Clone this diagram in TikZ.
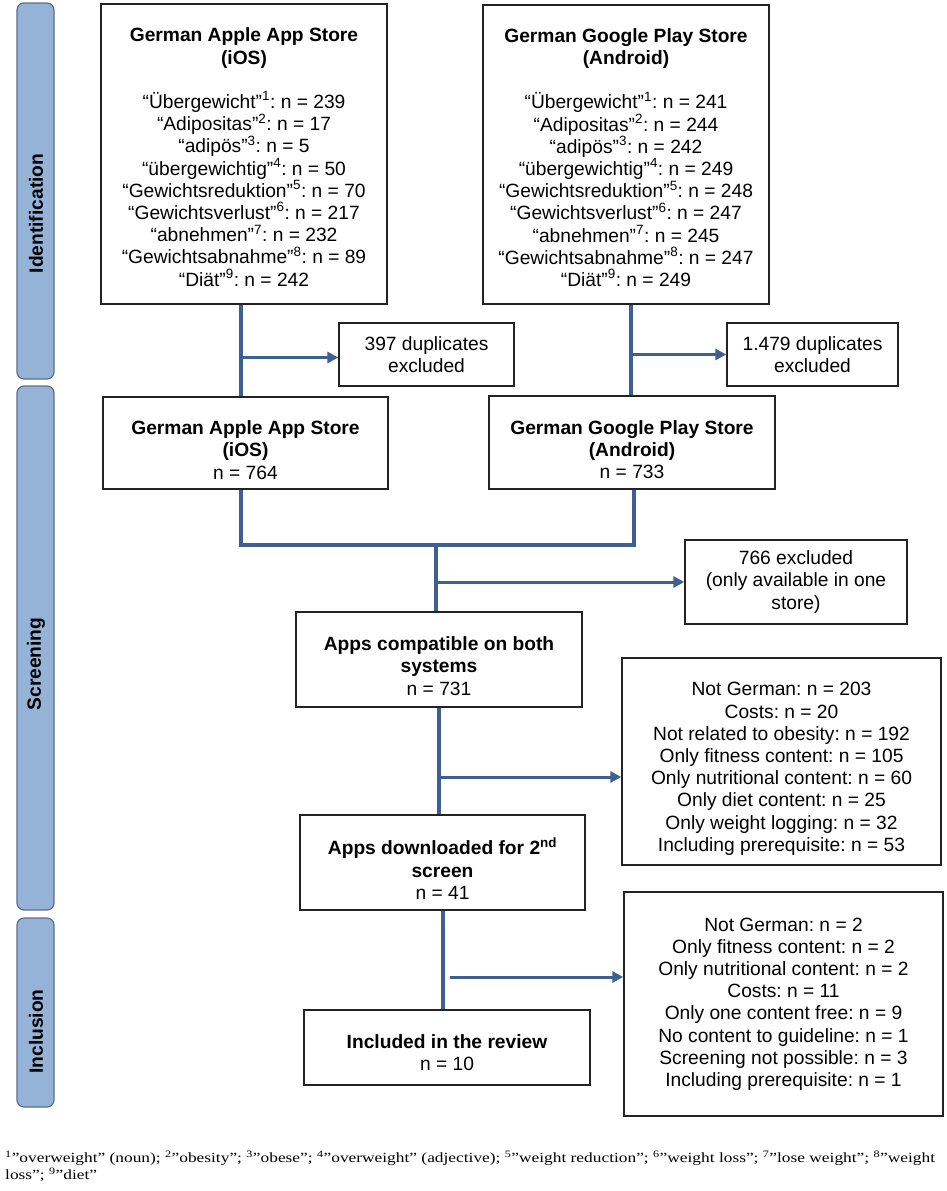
\documentclass[tikz,border=0pt]{standalone}
\usepackage{fontspec}
\setmainfont{Liberation Sans}
\newfontfamily\fnfont[FakeStretch=1.24]{Liberation Serif}
\usetikzlibrary{arrows.meta}
\definecolor{conn}{RGB}{62,96,145}
\definecolor{barfill}{RGB}{149,179,215}
\definecolor{barline}{RGB}{95,110,135}
\definecolor{boxline}{RGB}{35,35,35}
\frenchspacing
\begin{document}
\begin{tikzpicture}[x=1pt,y=-1pt,
  every node/.style={font=\fontsize{19.2}{22.2}\selectfont},
  box/.style={draw=boxline,line width=1.4pt,align=center,inner sep=0pt},
  bar/.style={draw=barline,fill=barfill,line width=1.2pt,rounded corners=7pt,minimum width=37pt,inner sep=0pt},
  side/.style={rotate=90,inner sep=0pt,font=\fontsize{19.2}{22.2}\selectfont\bfseries},
  vl/.style={draw=conn,line width=4pt,line join=miter},
  arr/.style={draw=conn,line width=3pt,-{Triangle[length=11pt,width=11pt]}}]
\fill[white] (0,0) rectangle (947,1191);
\useasboundingbox (0,0) rectangle (947,1191);

% side bars
\node[bar,minimum height=376pt] (b1) at (35.5,191) {};
\node[bar,minimum height=524pt] (b2) at (35.5,648) {};
\node[bar,minimum height=189pt] (b3) at (35.5,1012.5) {};
\node[side] (l1) at (36,213.5) {Identification};
\node[side] (l2) at (36,664) {Screening};
\node[side] (l3) at (36,1031.5) {Inclusion};

% identification boxes
\node[box,minimum width=286pt,minimum height=300pt] (tl) at (244,154) {\rule{0pt}{20pt}\textbf{German Apple App Store}\\\textbf{(iOS)}\\[22.2pt]
“Übergewicht”\textsuperscript{1}: n = 239\\
“Adipositas”\textsuperscript{2}: n = 17\\
“adipös”\textsuperscript{3}: n = 5\\
“übergewichtig”\textsuperscript{4}: n = 50\\
“Gewichtsreduktion”\textsuperscript{5}: n = 70\\
“Gewichtsverlust”\textsuperscript{6}: n = 217\\
“abnehmen”\textsuperscript{7}: n = 232\\
“Gewichtsabnahme”\textsuperscript{8}: n = 89\\
“Diät”\textsuperscript{9}: n = 242};

\node[box,minimum width=286pt,minimum height=299pt] (tr) at (626,154.5) {\rule{0pt}{20pt}\textbf{German Google Play Store}\\\textbf{(Android)}\\[22.2pt]
“Übergewicht”\textsuperscript{1}: n = 241\\
“Adipositas”\textsuperscript{2}: n = 244\\
“adipös”\textsuperscript{3}: n = 242\\
“übergewichtig”\textsuperscript{4}: n = 249\\
“Gewichtsreduktion”\textsuperscript{5}: n = 248\\
“Gewichtsverlust”\textsuperscript{6}: n = 247\\
“abnehmen”\textsuperscript{7}: n = 245\\
“Gewichtsabnahme”\textsuperscript{8}: n = 247\\
“Diät”\textsuperscript{9}: n = 249};

\node[box,minimum width=175pt,minimum height=63pt] (d1) at (426.5,354.5) {397 duplicates\\excluded};
\node[box,minimum width=171pt,minimum height=63pt] (d2) at (812.5,354.5) {1.479 duplicates\\excluded};

% screening boxes
\node[box,minimum width=285pt,minimum height=92pt] (a2) at (245.5,443) {\rule{0pt}{28pt}\textbf{German Apple App Store}\\\textbf{(iOS)}\\n = 764};
\node[box,minimum width=286pt,minimum height=93pt] (g2) at (632,442.5) {\rule{0pt}{28pt}\textbf{German Google Play Store}\\\textbf{(Android)}\\n = 733};
\node[box,minimum width=222pt,minimum height=84pt] (ex) at (796,582) {766 excluded\\(only available in one\\store)};
\node[box,minimum width=286pt,minimum height=95pt] (ac) at (439,659.5) {\rule{0pt}{27pt}\textbf{Apps compatible on both}\\\textbf{systems}\\n = 731};
\node[box,minimum width=319pt,minimum height=207pt] (r1) at (781.5,761.5) {\rule{0pt}{28pt}Not German: n = 203\\
Costs: n = 20\\
Not related to obesity: n = 192\\
Only fitness content: n = 105\\
Only nutritional content: n = 60\\
Only diet content: n = 25\\
Only weight logging: n = 32\\
Including prerequisite: n = 53};
\node[box,minimum width=285pt,minimum height=95pt] (ad) at (442.5,862.5) {\rule{0pt}{29pt}\textbf{Apps downloaded for 2\textsuperscript{nd}}\\\textbf{screen}\\n = 41};

% inclusion boxes
\node[box,minimum width=319pt,minimum height=224pt] (r2) at (783.5,1004) {Not German: n = 2\\
Only fitness content: n = 2\\
Only nutritional content: n = 2\\
Costs: n = 11\\
Only one content free: n = 9\\
No content to guideline: n = 1\\
Screening not possible: n = 3\\
Including prerequisite: n = 1};
\node[box,minimum width=286pt,minimum height=75pt] (inc) at (447,1047.5) {\rule{0pt}{24pt}\textbf{Included in the review}\\n = 10};

% footnote
\node[anchor=north west,inner sep=0pt,align=left,font=\fnfont\fontsize{14}{16.5}\selectfont] (fn) at (5,1151) {\textsuperscript{1}”overweight” (noun); \textsuperscript{2}”obesity”; \textsuperscript{3}”obese”; \textsuperscript{4}”overweight” (adjective); \textsuperscript{5}”weight reduction”; \textsuperscript{6}”weight loss”; \textsuperscript{7}”lose weight”; \textsuperscript{8}”weight\\loss”; \textsuperscript{9}”diet”};

% connectors
\coordinate (v1) at (241,0);
\coordinate (v2) at (631,0);
\coordinate (v3) at (634,0);
\coordinate (jy) at (0,545);
\coordinate (v4) at (436,0);
\coordinate (d1in) at ([yshift=-3pt]d1.west);
\coordinate (a3) at (439,777);
\coordinate (a4) at (450,977);

\draw[vl] (tl.south -| v1) -- (a2.north -| v1);
\draw[arr] (v1 |- d1in) -- (d1in);
\draw[vl] (tr.south -| v2) -- (g2.north -| v2);
\draw[arr] (v2 |- d2.west) -- (d2.west);
\draw[vl] (a2.south -| v1) -- (v1 |- jy) -- (v3 |- jy) -- (g2.south -| v3);
\draw[vl] (v4 |- jy) -- (ac.north -| v4);
\draw[arr] (v4 |- ex.west) -- (ex.west);
\draw[vl] (ac.south) -- (ac.south |- ad.north);
\draw[arr] (a3) -- (a3 -| r1.west);
\draw[vl] (ad.south) -- (ad.south |- inc.north);
\draw[arr] (a4) -- (a4 -| r2.west);
\end{tikzpicture}
\end{document}
